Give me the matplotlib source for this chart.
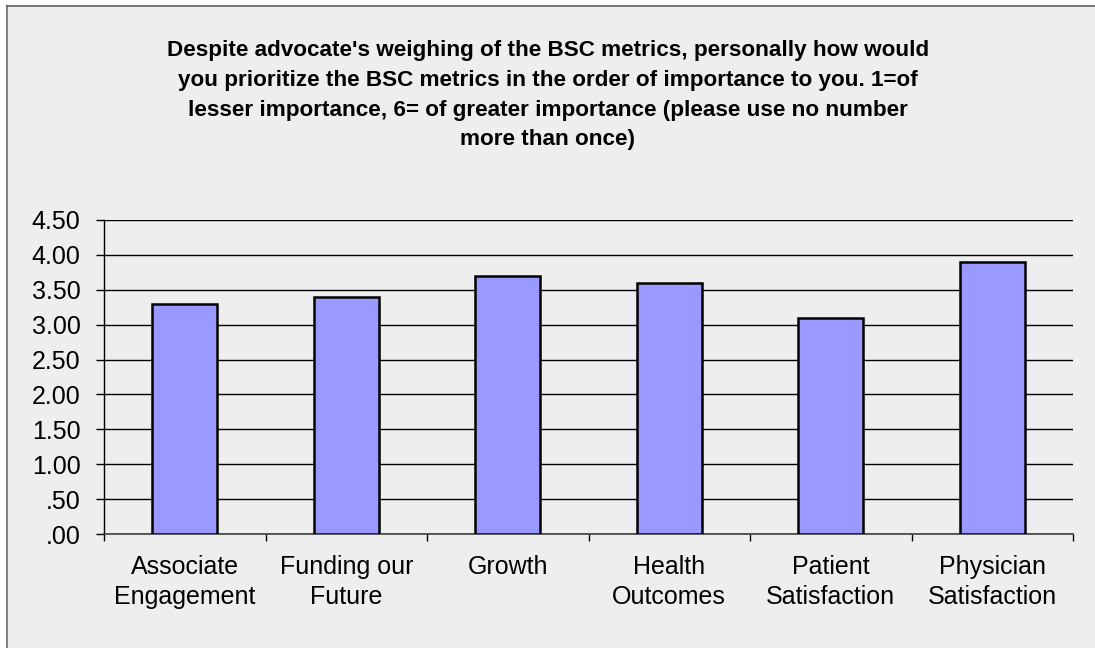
import matplotlib
matplotlib.use("Agg")
import matplotlib.pyplot as plt
from matplotlib.lines import Line2D
from matplotlib.patches import Rectangle
from matplotlib.ticker import FixedLocator, FuncFormatter

categories = ["Associate\nEngagement", "Funding our\nFuture", "Growth",
              "Health\nOutcomes", "Patient\nSatisfaction", "Physician\nSatisfaction"]
values = [3.3, 3.4, 3.7, 3.6, 3.1, 3.9]
yticks = [0.0, 0.5, 1.0, 1.5, 2.0, 2.5, 3.0, 3.5, 4.0, 4.5]
title = ("Despite advocate's weighing of the BSC metrics, personally how would\n"
         "you prioritize the BSC metrics in the order of importance to you. 1=of\n"
         "lesser importance, 6= of greater importance (please use no number\n"
         "more than once)")

W, H = 1095, 648
fig = plt.figure(figsize=(W / 100, H / 100), dpi=100, facecolor="#EEEEEE")

# white margin on left and top, with border lines
x0, y0 = 7 / W, 1 - 6 / H
fig.patches.append(Rectangle((0, 0), x0, 1, transform=fig.transFigure,
                             facecolor="white", edgecolor="none", zorder=-5))
fig.patches.append(Rectangle((0, y0), 1, 1 - y0, transform=fig.transFigure,
                             facecolor="white", edgecolor="none", zorder=-5))
fig.lines.append(Line2D([x0, x0], [0, y0], transform=fig.transFigure,
                        color="#808080", lw=1.5))
fig.lines.append(Line2D([x0, 1], [y0, y0], transform=fig.transFigure,
                        color="#606060", lw=1.2))

ax = fig.add_axes([104 / W, 1 - 534 / H, (1073 - 104) / W, (534 - 220) / H])
ax.set_facecolor("#EEEEEE")

x = list(range(len(categories)))
ax.bar(x, values, width=0.4, color="#9999FF", edgecolor="black",
       linewidth=1.8, zorder=3)

ax.set_xlim(-0.5, len(categories) - 0.5)
ax.set_ylim(0, 4.5)
ax.yaxis.set_major_locator(FixedLocator(yticks))
ax.yaxis.set_major_formatter(FuncFormatter(lambda v, p: f"{v:.2f}".lstrip("0") if v < 1 else f"{v:.2f}"))
ax.grid(axis="y", color="black", linewidth=1.0, zorder=1)
ax.set_axisbelow(True)

ax.set_xticks(x)
ax.set_xticklabels(categories, fontsize=18, fontfamily="Liberation Sans", linespacing=1.3)
ax.tick_params(axis="x", which="major", length=0, pad=15)
ax.set_xticks([i + 0.5 for i in range(-1, len(categories))], minor=True)
ax.tick_params(axis="x", which="minor", length=5, width=1, color="black", direction="out")
ax.tick_params(axis="y", length=6, width=1, color="black", direction="out", pad=11)
for lab in ax.get_yticklabels():
    lab.set_fontsize(18)
    lab.set_fontfamily("Liberation Sans")

for s in ["top", "right"]:
    ax.spines[s].set_visible(False)
ax.spines["left"].set_color("black")
ax.spines["bottom"].set_color("#404040")
ax.spines["left"].set_linewidth(1.0)
ax.spines["bottom"].set_linewidth(1.2)

fig.text(548 / W, 1 - 40 / H, title, ha="center", va="top", fontsize=16.2,
         fontweight="bold", fontfamily="Liberation Sans", linespacing=1.55)

fig.savefig("out.png", dpi=100, facecolor=fig.get_facecolor())
